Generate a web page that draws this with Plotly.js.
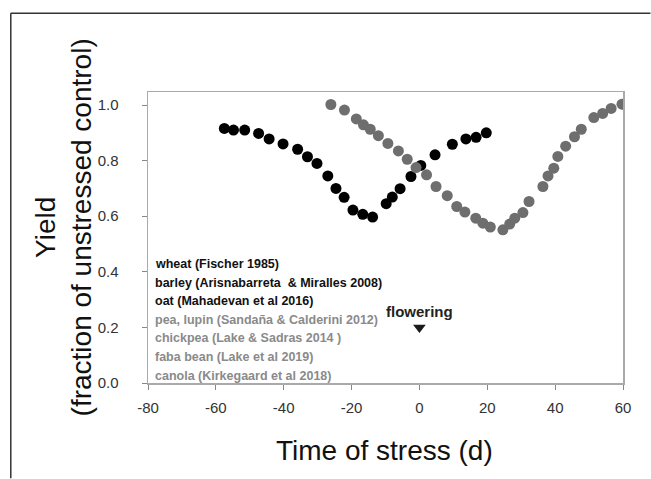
<!DOCTYPE html>
<html>
<head>
<meta charset="utf-8">
<script src="https://cdn.plot.ly/plotly-3.0.1.min.js"></script>
<style>html,body{margin:0;padding:0;background:#fff;}#chart{width:651px;height:479px;}</style>
</head>
<body>
<div id="chart"></div>
<script>
// Cereals (black series)
const cerealX = [-57.5, -54.8, -51.5, -47.4, -44.3, -40.2, -35.9, -33.0, -30.2, -27.0, -24.6, -22.2, -19.6, -16.7, -13.8, -9.8, -8.0, -5.7, -2.5, 0.4, 4.6, 9.7, 13.7, 16.7, 19.7];
const cerealY = [0.916, 0.910, 0.910, 0.898, 0.878, 0.860, 0.841, 0.814, 0.790, 0.745, 0.700, 0.668, 0.622, 0.607, 0.597, 0.645, 0.669, 0.699, 0.743, 0.783, 0.821, 0.859, 0.878, 0.884, 0.900];
// Pulses and canola (grey series)
const pulseX = [-26.1, -22.1, -18.6, -16.5, -14.5, -12.1, -9.3, -6.2, -3.6, -1.0, 2.1, 4.9, 8.2, 11.0, 13.4, 16.6, 18.7, 20.9, 24.6, 26.6, 28.1, 30.5, 32.3, 36.4, 37.9, 39.6, 40.8, 43.1, 45.7, 47.7, 51.4, 54.0, 56.5, 59.7];
const pulseY = [1.002, 0.982, 0.950, 0.929, 0.913, 0.890, 0.862, 0.835, 0.805, 0.775, 0.749, 0.707, 0.674, 0.635, 0.615, 0.593, 0.575, 0.561, 0.551, 0.572, 0.593, 0.613, 0.653, 0.707, 0.745, 0.773, 0.815, 0.852, 0.886, 0.913, 0.955, 0.970, 0.988, 1.003];
// Flowering marker
const floweringX = [0];
const floweringY = [0.2];
const floweringLabel = 'flowering';
// Tick values
const xTicks = [-80, -60, -40, -20, 0, 20, 40, 60];
const yTicks = [0.0, 0.2, 0.4, 0.6, 0.8, 1.0];
// Source list (first three are cereals)
const sourceLines = [
  'wheat (Fischer 1985)',
  'barley (Arisnabarreta  &amp; Miralles 2008)',
  'oat (Mahadevan et al 2016)',
  'pea, lupin (Sandaña &amp; Calderini 2012)',
  'chickpea (Lake &amp; Sadras 2014 )',
  'faba bean (Lake et al 2019)',
  'canola (Kirkegaard et al 2018)'
];
const nCereal = 3;
const xTitle = 'Time of stress (d)';
const yTitle = 'Yield<br>(fraction of unstressed control)';

const W = 651, H = 479;
const m = {l: 147.5, r: 27.5, t: 92, b: 95.5};
const pw = W - m.l - m.r, ph = H - m.t - m.b;
const px2x = p => (p - m.l) / pw;
const py2y = p => (H - m.b - p) / ph;

const sans = 'Liberation Sans, Arial, sans-serif';

const traces = [
  {x: cerealX, y: cerealY, mode: 'markers', type: 'scatter',
   marker: {color: '#000000', size: 11, line: {width: 0}}, hoverinfo: 'skip'},
  {x: pulseX, y: pulseY, mode: 'markers', type: 'scatter',
   marker: {color: '#6e6e6e', size: 11, line: {width: 0}}, hoverinfo: 'skip'},
  {x: floweringX, y: floweringY, mode: 'markers', type: 'scatter',
   marker: {color: '#1a1a1a', size: 11, symbol: 'triangle-down', line: {width: 0}}, hoverinfo: 'skip'}
];

const annotations = [];
sourceLines.forEach((t, i) => {
  annotations.push({
    xref: 'paper', yref: 'paper', x: px2x(153), y: py2y(264.5 + i * 18.6),
    xanchor: 'left', yanchor: 'middle', showarrow: false,
    text: '<b>' + t + '</b>',
    font: {family: sans, size: 12.5, color: i < nCereal ? '#111111' : '#8a8a8a'}
  });
});
annotations.push({
  xref: 'x', yref: 'y', x: floweringX[0], y: floweringY[0] + 0.057,
  xanchor: 'center', yanchor: 'middle', showarrow: false,
  text: '<b>' + floweringLabel + '</b>',
  font: {family: sans, size: 15, color: '#222222'}
});
annotations.push({
  xref: 'paper', yref: 'paper', x: px2x(384), y: py2y(451),
  xanchor: 'center', yanchor: 'middle', showarrow: false,
  text: xTitle, font: {family: sans, size: 28, color: '#111111'}
});
annotations.push({
  xref: 'paper', yref: 'paper', x: px2x(63), y: py2y(228),
  xanchor: 'center', yanchor: 'middle', showarrow: false, textangle: -90,
  text: yTitle, font: {family: sans, size: 28, color: '#111111'}
});

const layout = {
  width: W, height: H,
  margin: m,
  paper_bgcolor: '#ffffff', plot_bgcolor: '#ffffff',
  showlegend: false,
  xaxis: {
    range: [-80, 60], tickvals: xTicks, ticktext: xTicks.map(String),
    showgrid: false, zeroline: false, showline: true, mirror: true,
    linecolor: '#aaaaaa', linewidth: 1.5,
    ticks: 'outside', ticklen: 5, tickcolor: '#888888', tickwidth: 1,
    ticklabelstandoff: 5,
    tickfont: {family: sans, size: 15, color: '#333333'}
  },
  yaxis: {
    range: [0, 1.047], tickvals: yTicks, ticktext: yTicks.map(v => v.toFixed(1)),
    showgrid: false, zeroline: false, showline: true, mirror: true,
    linecolor: '#aaaaaa', linewidth: 1.5,
    ticks: 'outside', ticklen: 5, tickcolor: '#888888', tickwidth: 1,
    ticklabelstandoff: 20,
    tickfont: {family: sans, size: 15, color: '#333333'}
  },
  annotations: annotations,
  shapes: [
    {type: 'line', xref: 'paper', yref: 'paper', x0: px2x(10), x1: px2x(651), y0: py2y(13), y1: py2y(13),
     line: {color: '#333333', width: 1.5}},
    {type: 'line', xref: 'paper', yref: 'paper', x0: px2x(10), x1: px2x(10), y0: py2y(13), y1: py2y(479),
     line: {color: '#333333', width: 1.5}}
  ]
};

Plotly.newPlot('chart', traces, layout, {displayModeBar: false, staticPlot: true});
</script>
</body>
</html>
